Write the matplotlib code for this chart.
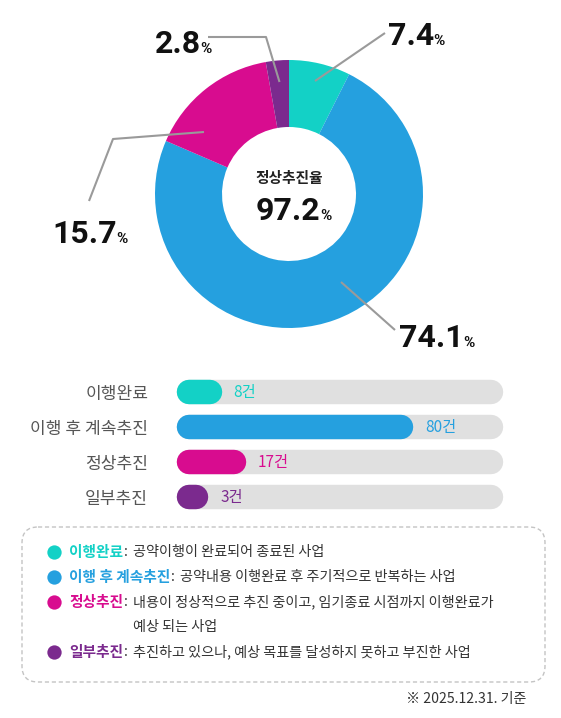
import matplotlib
matplotlib.use("Agg")
import matplotlib.pyplot as plt
from matplotlib.patches import FancyBboxPatch

plt.rcParams["font.family"] = ["Noto Sans CJK KR", "DejaVu Sans"]

# data
categories = ["이행완료", "이행 후 계속추진", "정상추진", "일부추진"]
counts = [8, 80, 17, 3]
colors = ["#13d1c6", "#25a0df", "#d80c8f", "#7b2a8e"]
descriptions = [
    "공약이행이 완료되어 종료된 사업",
    "공약내용 이행완료 후 주기적으로 반복하는 사업",
    "내용이 정상적으로 추진 중이고, 임기종료 시점까지 이행완료가",
    "추진하고 있으나, 예상 목표를 달성하지 못하고 부진한 사업",
]
desc_more = ["", "", "예상 되는 사업", ""]
center_title = "정상추진율"
note = "※ 2025.12.31. 기준"

total = sum(counts)
shares = [c / total * 100 for c in counts]
normal_rate = sum(counts[:3]) / total * 100

W, H = 561, 718
fig = plt.figure(figsize=(W / 100, H / 100), dpi=100)


def px_rect(x0, y0, x1, y1):
    return [x0 / W, 1 - y1 / H, (x1 - x0) / W, (y1 - y0) / H]


# donut
ax_pie = fig.add_axes(px_rect(155, 60, 423, 328))
ax_pie.pie(counts, colors=colors, startangle=90, counterclock=False,
           radius=1, wedgeprops=dict(width=0.5, linewidth=0))
ax_pie.set_xlim(-1, 1)
ax_pie.set_ylim(-1, 1)
ax_pie.axis("off")

# overlay in pixel coords for labels and legend
ov = fig.add_axes([0, 0, 1, 1], zorder=5)
ov.set_xlim(0, W)
ov.set_ylim(H, 0)
ov.axis("off")

renderer = fig.canvas.get_renderer()


def right_px(t):
    bb = t.get_window_extent(renderer=renderer)
    return ov.transData.inverted().transform((bb.x1, bb.y0))[0]


num_font = ["Roboto", "DejaVu Sans"]


def big_pct(x, y, value):
    t = ov.text(x, y, f"{value:.1f}", family=num_font, weight="bold",
                fontsize=23, color="#111111", va="baseline")
    ov.text(right_px(t) - 0.5, y, "%", family=num_font, weight="bold",
            fontsize=11, color="#111111", va="baseline")


leaders = [
    [(315, 81), (385, 33)],
    [(341, 282), (395, 330)],
    [(204, 132), (113, 139), (89, 201)],
    [(279.5, 82), (266, 37), (208, 37)],
]
label_pos = [(388, 45), (399, 347), (52, 243), (155, 53)]

for pts, pos, s in zip(leaders, label_pos, shares):
    xs, ys = zip(*pts)
    ov.plot(xs, ys, color="#9a9a9a", lw=1.5, solid_capstyle="butt")
    big_pct(pos[0], pos[1], s)

ov.text(289.5, 178, center_title, ha="center", va="center", fontsize=10.6,
        weight="bold", color="#222222")
big_pct(256, 220, normal_rate)

# bars
bx = fig.add_axes(px_rect(188.5, 374.5, 490.5, 515))
xmax = 113.5
for i, (v, c) in enumerate(zip(counts, colors)):
    bx.plot([0, xmax], [i, i], lw=17.6, color="#e0e0e0",
            solid_capstyle="round", clip_on=False)
    bx.plot([0, v], [i, i], lw=17.6, color=c,
            solid_capstyle="round", clip_on=False)
    bx.annotate(f"{v}건", xy=(v, i), xytext=(17, 0),
                textcoords="offset points", va="center", color=c,
                fontsize=11)
bx.set_xlim(0, xmax)
bx.set_ylim(3.5, -0.5)
bx.set_xticks([])
bx.set_yticks(range(len(categories)), labels=categories)
bx.tick_params(axis="y", length=0, pad=29, labelsize=12.3, labelcolor="#555555")
for sp in bx.spines.values():
    sp.set_visible(False)
bx.patch.set_visible(False)

# legend box
box = FancyBboxPatch((22, 527), 523, 155,
                     boxstyle="round,pad=0,rounding_size=16",
                     fill=False, ec="#c4c4c4", lw=1, ls=(0, (3, 2)))
ov.add_patch(box)

row = 0
for cat, c, d, more in zip(categories, colors, descriptions, desc_more):
    y = 552 + 25 * row
    ov.plot(54, y, "o", ms=10.3, color=c, mec="none")
    t = ov.text(69, y, cat, color=c, weight="bold", fontsize=10.6, va="center")
    t2 = ov.text(right_px(t) + 1, y, ":", color="#333333", fontsize=10.2,
                 va="center")
    x_desc = right_px(t2) + 5
    ov.text(x_desc, y, d, color="#333333", fontsize=10.2, va="center")
    row += 1
    if more:
        ov.text(x_desc, y + 25, more, color="#333333", fontsize=10.2,
                va="center")
        row += 1

ov.text(526, 699, note, ha="right", va="center", fontsize=10.1, color="#333333")

fig.savefig("out.png", dpi=100)
